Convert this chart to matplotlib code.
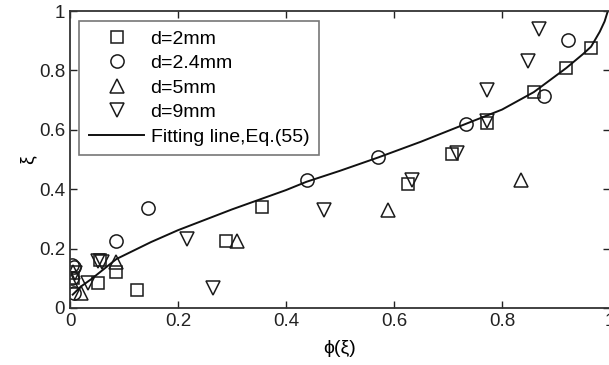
import matplotlib
matplotlib.use("Agg")
import matplotlib.pyplot as plt

plt.rcParams['font.family'] = ['Liberation Sans', 'DejaVu Sans']

# d = 2 mm (squares)
sq_x = [0.006, 0.052, 0.056, 0.086, 0.124, 0.288, 0.356, 0.625, 0.708, 0.773, 0.859, 0.919, 0.965]
sq_y = [0.100, 0.083, 0.160, 0.122, 0.060, 0.225, 0.341, 0.419, 0.520, 0.623, 0.727, 0.808, 0.876]
# d = 2.4 mm (circles)
ci_x = [0.004, 0.008, 0.004, 0.008, 0.085, 0.144, 0.438, 0.571, 0.733, 0.877, 0.922]
ci_y = [0.145, 0.138, 0.100, 0.050, 0.226, 0.337, 0.432, 0.509, 0.621, 0.713, 0.903]
# d = 5 mm (up triangles)
tu_x = [0.002, 0.006, 0.021, 0.086, 0.309, 0.588, 0.836]
tu_y = [0.090, 0.120, 0.050, 0.154, 0.225, 0.329, 0.430]
# d = 9 mm (down triangles)
td_x = [0.010, 0.034, 0.052, 0.060, 0.216, 0.265, 0.470, 0.633, 0.717, 0.773, 0.772, 0.849, 0.869]
td_y = [0.118, 0.085, 0.158, 0.155, 0.232, 0.068, 0.329, 0.430, 0.522, 0.629, 0.733, 0.831, 0.940]
# Fitting line, Eq.(55)
fit_x = [0.005, 0.020, 0.040, 0.086, 0.150, 0.200, 0.300, 0.400, 0.438, 0.500, 0.571,
         0.650, 0.733, 0.800, 0.859, 0.919, 0.950, 0.965, 0.981, 0.990, 0.996]
fit_y = [0.045, 0.072, 0.098, 0.165, 0.222, 0.262, 0.332, 0.397, 0.425, 0.462, 0.507,
         0.560, 0.620, 0.668, 0.727, 0.808, 0.855, 0.880, 0.930, 0.965, 1.000]

ticks = [0, 0.2, 0.4, 0.6, 0.8, 1.0]
tick_labels = ['0', '0.2', '0.4', '0.6', '0.8', '1']

W, H = 609, 365
fig = plt.figure(figsize=(W / 100, H / 100), dpi=100)
ax = fig.add_axes([70 / W, 1 - 308 / H, 540 / W, 297 / H])

mk = dict(linestyle='none', markerfacecolor='none', markeredgecolor='#1a1a1a', markeredgewidth=1.1)
ax.plot(sq_x, sq_y, marker='s', markersize=8, label='d=2mm', **mk)
ax.plot(ci_x, ci_y, marker='o', markersize=9.5, label='d=2.4mm', **mk)
ax.plot(tu_x, tu_y, marker='^', markersize=10.5, label='d=5mm', **mk)
ax.plot(td_x, td_y, marker='v', markersize=10.5, label='d=9mm', **mk)
ax.plot(fit_x, fit_y, color='#111111', linewidth=1.4, label='Fitting line,Eq.(55)')

ax.set_xlim(0, 1)
ax.set_ylim(0, 1)
ax.set_xticks(ticks)
ax.set_xticklabels(tick_labels)
ax.set_yticks(ticks)
ax.set_yticklabels(tick_labels)
ax.tick_params(direction='in', top=True, right=True, length=5, width=1, labelsize=13.5, colors='#222222')
for s in ax.spines.values():
    s.set_linewidth(1.3)
    s.set_color('#333333')

ax.set_xlabel('ϕ(ξ)', fontsize=14, labelpad=7)
ax.set_ylabel('ξ', fontsize=14, labelpad=2)

leg = ax.legend(loc='upper left', bbox_to_anchor=(0.017, 0.968), fontsize=14, frameon=True,
                fancybox=False, edgecolor='#555555', handlelength=2.85, handletextpad=0.32,
                labelspacing=0.35, borderpad=0.5, borderaxespad=0)
leg.get_frame().set_linewidth(1.2)

fig.savefig('out.png', dpi=100)
